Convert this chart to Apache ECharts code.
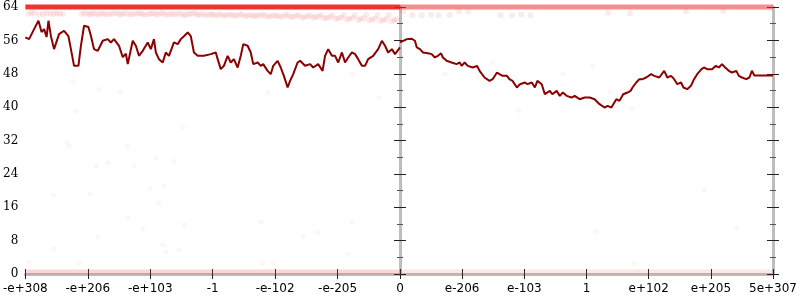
<!DOCTYPE html>
<html><head><meta charset="utf-8">
<script src="https://cdn.jsdelivr.net/npm/echarts@6/dist/echarts.min.js"></script>
<style>html,body{margin:0;padding:0;background:#fff}#c{width:800px;height:300px}</style>
</head><body><div id="c"></div><script>
// ---- tick labels ----
const leftTickLabels = ['-e+308', '-e+206', '-e+103', '-1', '-e-102', '-e-205', '0'];
const rightTickLabels = ['', 'e-206', 'e-103', '1', 'e+102', 'e+205', '5e+307'];
const yMin = 0, yMax = 64, yStep = 8;

// ---- main line (x in tick units: left -6..0, right 0..6) ----
const leftLine = [
[-6.00,56.7],[-5.94,56.3],[-5.86,58.7],[-5.79,60.7],[-5.74,58.0],[-5.70,58.7],[-5.66,56.8],[-5.63,60.7],[-5.59,57.0],[-5.54,53.9],
[-5.46,57.5],[-5.38,58.3],[-5.31,57.0],[-5.27,53.9],[-5.22,49.9],[-5.15,49.9],[-5.11,54.7],[-5.06,59.5],[-4.99,59.2],[-4.95,57.1],
[-4.90,53.9],[-4.84,53.5],[-4.76,55.9],[-4.68,56.3],[-4.63,55.5],[-4.58,56.3],[-4.50,54.7],[-4.44,52.0],[-4.39,52.8],[-4.36,50.3],
[-4.28,55.9],[-4.23,54.7],[-4.18,52.3],[-4.12,53.5],[-4.04,55.5],[-3.99,53.9],[-3.94,56.3],[-3.91,53.1],[-3.86,51.5],[-3.80,50.7],
[-3.75,53.1],[-3.70,52.3],[-3.62,55.5],[-3.56,55.1],[-3.51,56.3],[-3.46,57.0],[-3.40,57.9],[-3.35,57.0],[-3.30,53.1],[-3.24,52.3],
[-3.14,52.3],[-3.03,52.7],[-2.95,53.1],[-2.92,51.5],[-2.87,49.1],[-2.82,49.9],[-2.76,52.3],[-2.71,50.7],[-2.66,51.5],[-2.60,49.5],
[-2.55,52.3],[-2.51,55.1],[-2.44,54.7],[-2.39,53.1],[-2.35,50.3],[-2.28,50.7],[-2.23,49.9],[-2.19,50.3],[-2.12,48.7],[-2.07,47.9],
[-2.03,49.9],[-1.96,51.1],[-1.91,49.5],[-1.86,47.5],[-1.80,44.7],[-1.76,46.3],[-1.71,47.9],[-1.64,50.7],[-1.60,51.1],[-1.52,49.9],
[-1.44,50.3],[-1.39,49.5],[-1.31,50.3],[-1.24,48.7],[-1.20,52.3],[-1.15,53.9],[-1.09,52.3],[-1.04,52.3],[-0.99,50.7],[-0.93,53.1],
[-0.88,50.7],[-0.83,51.9],[-0.77,53.1],[-0.72,52.7],[-0.67,51.5],[-0.61,49.9],[-0.56,49.9],[-0.51,51.5],[-0.43,52.3],[-0.35,53.9],
[-0.29,55.9],[-0.24,54.7],[-0.19,53.1],[-0.13,53.9],[-0.08,52.7],[-0.02,53.9],[0.00,54.3]
];
const rightLine = [
[0.00,55.5],[0.05,55.9],[0.11,56.3],[0.19,56.4],[0.24,55.9],[0.27,54.3],[0.32,53.9],[0.37,53.1],[0.45,52.9],[0.51,52.7],
[0.56,51.9],[0.61,52.3],[0.66,52.9],[0.69,51.9],[0.75,51.1],[0.83,50.7],[0.91,50.3],[0.96,50.7],[0.99,49.9],[1.04,50.7],
[1.09,49.9],[1.17,49.5],[1.24,49.9],[1.28,48.7],[1.36,47.1],[1.44,46.3],[1.49,46.7],[1.56,48.3],[1.60,47.9],[1.65,47.5],
[1.72,47.5],[1.76,46.7],[1.81,46.3],[1.88,44.7],[1.93,45.5],[2.01,45.9],[2.05,45.5],[2.12,45.9],[2.17,44.7],[2.21,46.3],
[2.28,45.5],[2.33,43.1],[2.41,43.9],[2.45,43.1],[2.52,43.9],[2.57,42.7],[2.62,43.5],[2.68,42.7],[2.76,42.3],[2.81,42.7],
[2.89,41.9],[2.97,42.3],[3.00,42.7],[3.05,42.3],[3.13,41.9],[3.21,40.7],[3.29,39.9],[3.34,40.3],[3.40,39.9],[3.48,41.9],
[3.53,41.5],[3.59,43.1],[3.66,43.5],[3.71,43.9],[3.74,44.7],[3.80,45.9],[3.85,46.7],[3.90,46.7],[3.96,47.1],[4.04,47.9],
[4.09,47.5],[4.17,47.1],[4.25,48.7],[4.30,47.1],[4.36,47.5],[4.41,46.7],[4.46,45.5],[4.52,45.9],[4.56,44.7],[4.62,44.3],
[4.68,45.1],[4.73,46.7],[4.78,47.9],[4.85,49.1],[4.89,49.5],[4.94,49.1],[5.02,49.1],[5.08,49.9],[5.13,49.5],[5.18,50.3],
[5.23,49.5],[5.29,48.7],[5.34,48.3],[5.41,48.7],[5.45,47.5],[5.50,47.1],[5.57,46.7],[5.62,47.1],[5.66,48.7],[5.70,47.6],
[6.00,47.6]
];

// ---- dense point bands ----
const leftTopBand = [[-6, 64], [0, 64]];
const rightTopBand = [[0, 64], [6, 64]];
const leftBottomBand = [[-6, 0.5], [0, 0.5]];
const rightBottomBand = [[0, 0.5], [6, 0.5]];

// ---- faint points just under the top band ----
const leftUpperDots = [
[-5.95,62.4],[-5.85,62.5],[-5.72,62.3],[-5.60,62.4],[-5.50,62.5],[-5.40,62.3],
[-5.10,62.4],[-5.00,62.3],[-4.92,62.5],[-4.83,62.2],[-4.74,62.4],[-4.65,62.3],[-4.55,62.5],[-4.46,62.2],[-4.37,62.4],[-4.28,62.3],
[-4.18,62.5],[-4.10,62.2],[-4.00,62.4],[-3.91,62.3],[-3.82,62.5],[-3.73,62.1],[-3.64,62.3],[-3.55,62.4],[-3.46,62.0],[-3.37,62.3],
[-3.28,62.5],[-3.20,62.2],[-3.10,62.0],[-3.01,62.3],[-2.92,62.1],[-2.83,61.9],[-2.74,62.2],[-2.65,62.0],[-2.56,62.3],[-2.47,61.8],
[-2.38,62.1],[-2.30,61.9],[-2.20,62.2],[-2.11,61.7],[-2.02,62.0],[-1.93,61.8],[-1.84,62.1],[-1.75,61.6],[-1.66,61.9],[-1.57,61.5],
[-1.48,61.8],[-1.39,61.4],[-1.30,61.7],[-1.21,61.3],[-1.12,61.6],[-1.03,61.2],[-0.94,61.5],[-0.85,61.0],[-0.76,61.4],[-0.67,60.9],
[-0.58,61.3],[-0.49,60.8],[-0.40,61.2],[-0.31,60.7],[-0.22,61.1],[-0.13,60.6],[-0.05,61.0]
];
const leftUpperDots2 = [
[-5.90,62.6],[-5.78,62.2],[-5.66,62.5],[-5.55,62.3],[-5.45,62.4],
[-5.05,62.5],[-4.96,62.2],[-4.88,62.4],[-4.79,62.5],[-4.70,62.2],[-4.60,62.4],[-4.50,62.3],[-4.42,62.5],[-4.32,62.2],[-4.23,62.4],
[-4.14,62.4],[-4.05,62.2],[-3.96,62.5],[-3.87,62.2],[-3.78,62.4],[-3.69,62.3],[-3.60,62.2],[-3.50,62.3],[-3.42,62.2],[-3.33,62.4],
[-3.24,62.1],[-3.15,62.3],[-3.05,62.2],[-2.97,62.0],[-2.88,62.3],[-2.79,62.0],[-2.70,62.1],[-2.61,61.9],[-2.52,62.1],[-2.43,62.0],
[-2.34,61.8],[-2.25,62.0],[-2.16,61.9],[-2.07,61.8],[-1.98,61.9],[-1.89,61.6],[-1.80,62.1],[-1.71,61.7],[-1.62,62.0],[-1.53,61.6],
[-1.44,62.0],[-1.35,61.6],[-1.26,62.1],[-1.17,61.4],[-1.08,62.0],[-0.99,61.3],[-0.90,62.1],[-0.81,61.2],[-0.72,62.0],[-0.63,61.1],
[-0.54,62.2],[-0.45,61.0],[-0.36,62.0],[-0.27,60.9],[-0.18,62.1],[-0.09,60.8]
];
const rightUpperDots = [
[0.05,63.0],[0.20,62.1],[0.35,62.0],[0.50,62.2],[0.62,62.0],[0.80,62.1],[0.95,63.0],[1.10,62.9],
[1.62,62.1],[1.80,62.0],[1.95,62.2],[2.10,62.0],[3.35,62.6],[3.70,62.5],[4.60,63.0],[5.20,63.1]
];

// ---- sparse faint points ----
const leftSparseDots = [
[-5.19,39.0],[-3.48,35.1],[-5.33,31.5],[-5.30,30.6],[-4.37,30.6],[-3.91,27.7],[-3.62,27.0],[-4.68,26.7],[-4.87,26.0],[-4.26,26.0],
[-3.78,21.2],[-4.01,20.5],[-5.55,19.0],[-4.96,19.2],[-3.86,17.1],[-4.37,13.5],[-3.45,11.8],[-4.12,10.8],[-4.82,44.3],[-4.48,43.8],
[-5.23,46.2],[-4.84,8.9],[-5.54,6.0],[-3.80,7.0],[-3.75,5.3],[-3.54,5.8],[-5.94,2.9],[-5.14,2.6],[-2.23,12.5],[-0.77,12.5],
[-1.55,8.9],[-1.32,9.9],[-0.83,4.8],[-2.20,2.6],[-2.03,2.6],[-2.12,43.5],[-0.77,47.9],[-0.34,42.3]
];
const rightSparseDots = [
[3.16,10.1],[5.42,11.0],[3.77,2.6],[3.37,43.5],[3.74,39.6],[4.89,20.2],[1.49,50.7],[0.72,47.9],[2.62,47.9],[3.10,49.8],[1.91,39.2]
];

// ---------------- chart ----------------
const AXIS_GRAY = '#bdbdbd';
function yAx(gridIndex, position, inside, showLabel, showLine) {
  return {
    type: 'value', gridIndex, position, offset: 0, min: yMin, max: yMax, interval: yStep,
    axisLine: { show: showLine, lineStyle: { color: AXIS_GRAY, width: 3 } },
    axisTick: { show: true, inside, length: 6, lineStyle: { color: '#222', width: 1 } },
    minorTick: { show: true, splitNumber: 2, length: 3, lineStyle: { color: '#555', width: 1 } },
    splitLine: { show: false },
    axisLabel: { show: showLabel, color: '#000', fontFamily: 'DejaVu Serif', fontSize: 12, margin: 7 }
  };
}
function xAx(gridIndex, min, max, labels, inside, showLabel, showLine) {
  return {
    type: 'value', gridIndex, position: 'bottom', offset: 0, min, max, interval: 1,
    axisLine: { show: showLine, lineStyle: { color: AXIS_GRAY, width: 3 } },
    axisTick: { show: true, inside, length: 5, lineStyle: { color: '#222', width: 1 } },
    splitLine: { show: false },
    axisLabel: {
      show: showLabel, color: '#000', fontFamily: 'DejaVu Sans', fontSize: 12, margin: 9,
      showMinLabel: true, showMaxLabel: true, hideOverlap: false,
      formatter: v => labels[Math.round(v - min)] ?? ''
    }
  };
}
const dotStyle = (a) => ({ color: 'rgba(230,40,40,' + a + ')' });

const option = {
  animation: false,
  grid: [
    { left: 24, right: 400, top: 7, bottom: 26 },
    { left: 400, right: 26, top: 7, bottom: 26 }
  ],
  xAxis: [
    xAx(0, -6, 0, leftTickLabels, false, true, true),
    xAx(0, -6, 0, leftTickLabels, true, false, false),
    xAx(1, 0, 6, rightTickLabels, false, true, true),
    xAx(1, 0, 6, rightTickLabels, true, false, false)
  ],
  yAxis: [
    yAx(0, 'left', false, true, true),
    yAx(0, 'left', true, false, false),
    yAx(1, 'left', false, false, true),
    yAx(1, 'left', true, false, false),
    yAx(1, 'right', false, false, true),
    yAx(1, 'right', true, false, false)
  ],
  series: [
    { type: 'line', xAxisIndex: 0, yAxisIndex: 0, data: leftBottomBand, showSymbol: false, clip: false, silent: true,
      lineStyle: { color: 'rgba(235,70,70,0.22)', width: 5 }, z: 1 },
    { type: 'line', xAxisIndex: 2, yAxisIndex: 2, data: rightBottomBand, showSymbol: false, clip: false, silent: true,
      lineStyle: { color: 'rgba(235,70,70,0.13)', width: 5 }, z: 1 },
    { type: 'scatter', xAxisIndex: 0, yAxisIndex: 0, data: leftUpperDots, symbolSize: 6, itemStyle: dotStyle(0.12), z: 1 },
    { type: 'scatter', xAxisIndex: 0, yAxisIndex: 0, data: leftUpperDots2, symbolSize: 6, itemStyle: dotStyle(0.12), z: 1 },
    { type: 'scatter', xAxisIndex: 2, yAxisIndex: 2, data: rightUpperDots, symbolSize: 6, itemStyle: dotStyle(0.12), z: 1 },
    { type: 'scatter', xAxisIndex: 0, yAxisIndex: 0, data: leftSparseDots, symbolSize: 5, itemStyle: dotStyle(0.06), z: 1 },
    { type: 'scatter', xAxisIndex: 2, yAxisIndex: 2, data: rightSparseDots, symbolSize: 5, itemStyle: dotStyle(0.06), z: 1 },
    { type: 'line', xAxisIndex: 0, yAxisIndex: 0, data: leftTopBand, showSymbol: false, clip: false, silent: true,
      lineStyle: { color: 'rgba(238,30,30,0.9)', width: 5 }, z: 2 },
    { type: 'line', xAxisIndex: 2, yAxisIndex: 2, data: rightTopBand, showSymbol: false, clip: false, silent: true,
      lineStyle: { color: 'rgba(238,50,50,0.55)', width: 5 }, z: 2 },
    { type: 'line', xAxisIndex: 0, yAxisIndex: 0, data: leftLine, showSymbol: false, clip: false,
      lineStyle: { color: '#8b0000', width: 2 }, z: 3 },
    { type: 'line', xAxisIndex: 2, yAxisIndex: 2, data: rightLine, showSymbol: false, clip: false,
      lineStyle: { color: '#8b0000', width: 2 }, z: 3 }
  ]
};
echarts.init(document.getElementById('c'), null, { renderer: 'canvas' }).setOption(option);
</script></body></html>
